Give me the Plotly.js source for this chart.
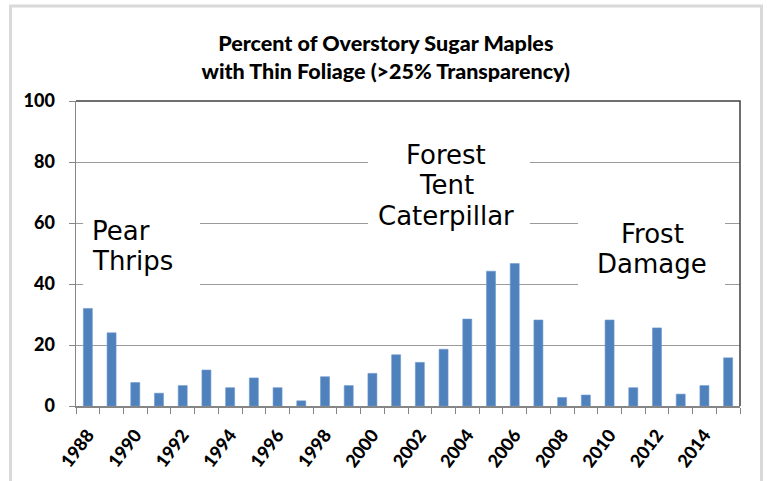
<!DOCTYPE html>
<html>
<head>
<meta charset="utf-8">
<script src="https://cdn.plot.ly/plotly-3.0.1.min.js"></script>
<style>
  html, body { margin: 0; padding: 0; background: #ffffff; }
  #chart { width: 767px; height: 481px; }
</style>
</head>
<body>
<div id="chart"></div>
<script>
// ---- Data ----
const years = [1988, 1989, 1990, 1991, 1992, 1993, 1994, 1995, 1996, 1997,
               1998, 1999, 2000, 2001, 2002, 2003, 2004, 2005, 2006, 2007,
               2008, 2009, 2010, 2011, 2012, 2013, 2014, 2015];
const percentThin = [32, 24, 7.7, 4.2, 6.7, 11.8, 6, 9.2, 6, 1.7,
                     9.6, 6.7, 10.7, 16.8, 14.3, 18.6, 28.5, 44.2, 46.7, 28.2,
                     2.8, 3.6, 28.2, 6, 25.6, 3.9, 6.7, 15.8];
const yTicks = [0, 20, 40, 60, 80, 100];
const xTickYears = [1988, 1990, 1992, 1994, 1996, 1998, 2000, 2002, 2004, 2006, 2008, 2010, 2012, 2014];

const titleText = "Percent of Overstory Sugar Maples<br>with Thin Foliage (&gt;25% Transparency)";

const labelFont = {family: "DejaVu Sans", size: 26, color: "#000000"};
const boldFont = "Lato";

const trace = {
  type: "bar",
  x: years,
  y: percentThin,
  marker: {color: "#4f81bd", line: {color: "#6f9ad0", width: 0.6}},
  hoverinfo: "x+y"
};

function ann(text, x, y, xanchor) {
  return {text: text, x: x, y: y, xref: "x", yref: "y", showarrow: false,
          xanchor: xanchor, yanchor: "middle", font: labelFont};
}

const layout = {
  width: 767,
  height: 481,
  margin: {l: 76, r: 27, t: 101, b: 75},
  paper_bgcolor: "#ffffff",
  plot_bgcolor: "#ffffff",
  showlegend: false,
  bargap: 0.62,
  title: {
    text: titleText,
    font: {family: boldFont, size: 21.5, color: "#000000", weight: 900},
    x: 0.503, xref: "container", xanchor: "center",
    y: 0.893, yref: "container", yanchor: "middle"
  },
  xaxis: {
    type: "linear",
    range: [1987.5, 2015.5],
    tickmode: "array",
    tickvals: xTickYears,
    ticktext: xTickYears.map(String),
    tickangle: -53,
    ticks: "",
    ticklen: 0,
    ticklabelstandoff: 10,
    tickfont: {family: boldFont, size: 18, color: "#000000", weight: 900},
    showgrid: false,
    zeroline: false,
    showline: true,
    linecolor: "#868686",
    linewidth: 1.5,
    minor: {tick0: 1987.5, dtick: 1, ticks: "outside", ticklen: 6, tickcolor: "#868686", tickwidth: 1, showgrid: false},
    fixedrange: true
  },
  yaxis: {
    range: [0, 100],
    tickmode: "array",
    tickvals: yTicks,
    ticks: "outside",
    ticklen: 6,
    tickcolor: "#868686",
    tickwidth: 1,
    ticklabelstandoff: 10,
    tickfont: {family: boldFont, size: 18, color: "#000000", weight: 900},
    showgrid: true,
    gridcolor: "#9a9a9a",
    gridwidth: 1,
    zeroline: false,
    showline: true,
    linecolor: "#868686",
    linewidth: 1.5,
    fixedrange: true
  },
  shapes: [
    {type: "path", xref: "paper", yref: "paper", path: "M 0 1 L 1 1 L 1 0",
     line: {color: "#404040", width: 1.5}, layer: "above"},
    {type: "path", xref: "paper", yref: "paper",
     path: "M -0.0986 -0.3 L -0.0986 1.3115 L 1.0324 1.3115 L 1.0324 -0.3",
     line: {color: "#d9d9d9", width: 3}, layer: "above"},
    {type: "rect", xref: "x", yref: "y", x0: 1987.8, x1: 1992.73, y0: 37.5, y1: 62.8,
     fillcolor: "#ffffff", line: {width: 0}, layer: "above"},
    {type: "rect", xref: "x", yref: "y", x0: 1999.81, x1: 2006.64, y0: 56.5, y1: 87.5,
     fillcolor: "#ffffff", line: {width: 0}, layer: "above"},
    {type: "rect", xref: "x", yref: "y", x0: 2008.67, x1: 2014.87, y0: 37.5, y1: 64.3,
     fillcolor: "#ffffff", line: {width: 0}, layer: "above"}
  ],
  annotations: [
    ann("Pear", 1988.1, 57.4, "left"),
    ann("Thrips", 1988.1, 47.5, "left"),
    ann("Forest", 2003.12, 82.3, "center"),
    ann("Tent", 2003.12, 72.4, "center"),
    ann("Caterpillar", 2003.12, 62.3, "center"),
    ann("Frost", 2011.8, 56.4, "center"),
    ann("Damage", 2011.8, 46.6, "center")
  ]
};

Plotly.newPlot("chart", [trace], layout, {displayModeBar: false, staticPlot: true});
</script>
</body>
</html>
